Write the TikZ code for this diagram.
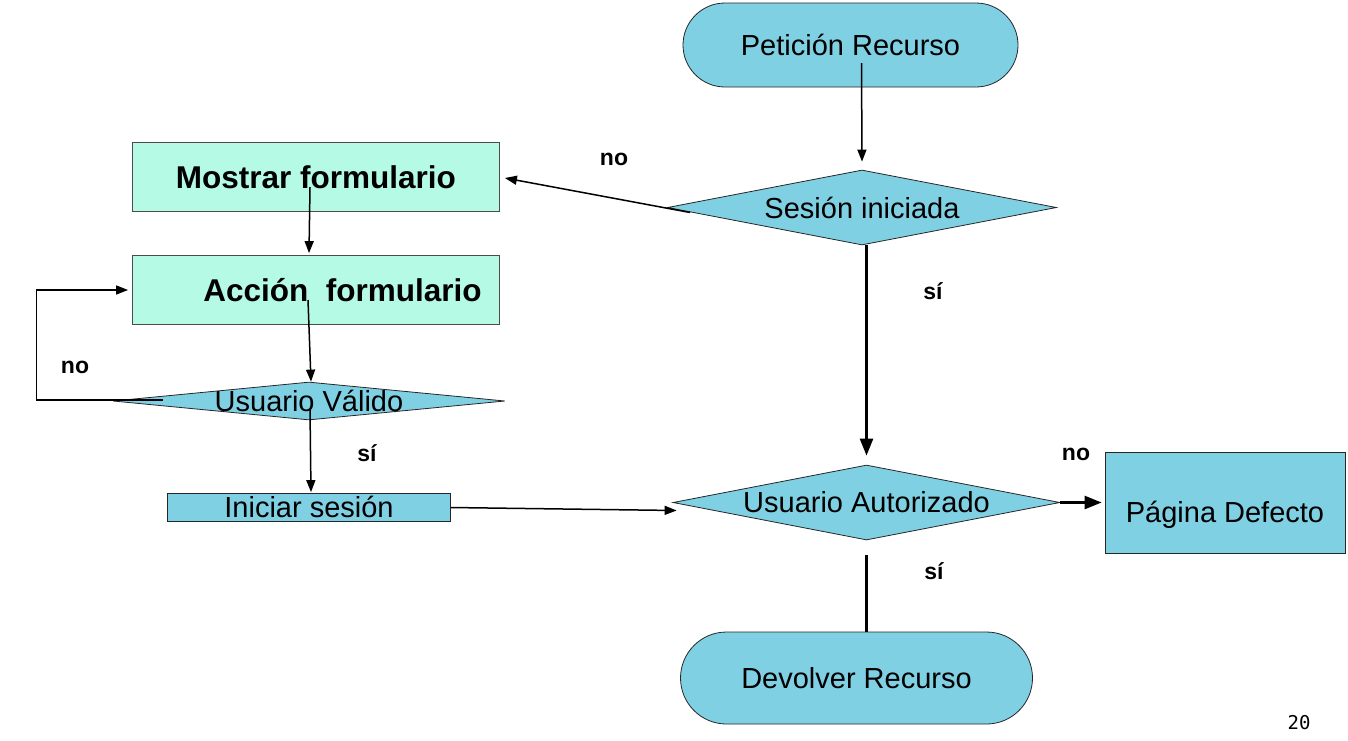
\documentclass[tikz,border=0pt]{standalone}
\usepackage{fontspec}
\setmainfont{Liberation Sans}
\newfontfamily\pagemono{DejaVu Sans Mono}
\usetikzlibrary{shapes.geometric,arrows.meta,calc}
\definecolor{flowblue}{HTML}{80D0E4}
\definecolor{flowmint}{HTML}{B5FAE5}
\begin{document}
\begin{tikzpicture}[x=1pt,y=-1pt,
 every node/.style={font=\fontsize{29}{33}\selectfont},
 term/.style={draw=black!85, line width=0.8pt, fill=flowblue, inner sep=0pt},
 decision/.style={diamond, draw=black!85, line width=0.8pt, fill=flowblue, inner sep=0pt},
 formbox/.style={draw=black!70, line width=0.8pt, fill=flowmint, minimum width=367pt, minimum height=69pt, inner sep=0pt, font=\bfseries\fontsize{31.5}{35}\selectfont},
 plainbox/.style={draw=black!85, line width=0.8pt, fill=flowblue, inner sep=0pt},
 lab/.style={font=\bfseries\fontsize{23}{26}\selectfont, inner sep=0pt},
 conn/.style={line width=1.5pt, -{Triangle[length=12pt,width=9pt]}},
 bigconn/.style={line width=2.6pt, -{Triangle[length=17pt,width=13pt]}},
 bigline/.style={line width=2.6pt}
]
\useasboundingbox (0,0) rectangle (1348,740);

% nodes
\node[term, rounded corners=42pt, minimum width=335pt, minimum height=84pt] (pet) at (850.5,45) {Petición Recurso};
\node[decision, minimum width=389pt, minimum height=75pt, label={[name=sesT]center:Sesión iniciada}] (ses) at (862,207.5) {};
\node[formbox] (mos) at (316,177) {Mostrar formulario};
\node[formbox] (acc) at (316,290) {\hspace*{53pt}Acción\ \ formulario};
\node[decision, minimum width=392pt, minimum height=38pt, label={[name=uvT]center:Usuario Válido}] (uv) at (309,401) {};
\node[plainbox, minimum width=283pt, minimum height=27pt, text height=24pt, text depth=4pt] (ini) at (309,507.5) {Iniciar sesión};
\node[decision, minimum width=387pt, minimum height=75pt, label={[name=autT]center:Usuario Autorizado}] (aut) at (866.5,502.5) {};
\node[plainbox, minimum width=240pt, minimum height=101pt, text height=46pt, text depth=6pt] (pag) at (1225,502.5) {Página Defecto};
\node[term, rounded corners=46pt, minimum width=352pt, minimum height=92pt] (dev) at (856.5,678) {Devolver Recurso};

% labels
\node[lab] (no1) at (614,159) {no};
\node[lab] (no2) at (75,367) {no};
\node[lab] (si1) at (367,453) {sí};
\node[lab] (si2) at (933,291) {sí};
\node[lab] (no3) at (1076,454) {no};
\node[lab] (si3) at (934,571) {sí};
\node[font=\pagemono\fontsize{19}{22}\selectfont] (pg) at (1299,723) {20};

% connectors
\draw[conn] ($(pet.center)+(11,18)$) -- ($(ses.north)+(0,-8)$);
\draw[conn] ($(ses.west)+(23,5)$) -- ($(mos.east)+(5,1)$);
\draw[conn] ($(mos.center)+(-6,10)$) -- ($(acc.north)+(-7,-2)$);
\draw[conn] ($(acc.center)+(-8,10)$) -- ($(uv.north)+(2,0)$);
\draw[conn] ($(uv.west)+(50,-1)$) -- ++(-126,0) |- ($(acc.west)+(-4,0)$);
\draw[conn] ($(uv.center)+(1,9)$) -- ($(ini.north)+(2,-1)$);
\draw[conn] (ini.east) -- ($(aut.west)+(4,8)$);
\draw[bigconn] (aut.north |- ses.south) -- ($(aut.north)+(0,-9)$);
\draw[bigconn] (aut.east) -- ($(pag.west)+(-3,0)$);
\draw[bigline] ($(aut.south)+(0,15)$) -- (dev.north -| aut.south);
\end{tikzpicture}
\end{document}
